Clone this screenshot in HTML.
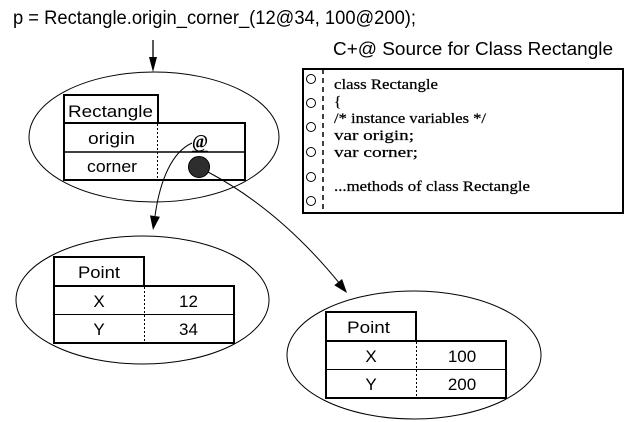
<!DOCTYPE html>
<html>
<head>
<meta charset="utf-8">
<style>
html,body{margin:0;padding:0;background:#fff;}
body{width:641px;height:422px;overflow:hidden;}
svg{display:block;}
.s{font-family:"Liberation Sans",Arial,sans-serif;fill:#000;}
.t{font-family:"Liberation Serif","Times New Roman",serif;fill:#000;stroke:#000;stroke-width:0.25;}
</style>
</head>
<body>
<svg width="641" height="422" viewBox="0 0 641 422" xmlns="http://www.w3.org/2000/svg">
  <rect x="0" y="0" width="641" height="422" fill="#fff"/>

  <!-- main title -->
  <text class="s" x="13" y="24" font-size="19" textLength="403" lengthAdjust="spacingAndGlyphs">p = Rectangle.origin_corner_(12@34, 100@200);</text>

  <!-- top arrow -->
  <line x1="153" y1="40" x2="153" y2="60" stroke="#000" stroke-width="1.3"/>
  <polygon points="153,72 149,57 157,57" fill="#000"/>

  <!-- ellipse 1 -->
  <ellipse cx="154" cy="137" rx="125" ry="65" fill="none" stroke="#000" stroke-width="1"/>

  <!-- Rectangle table -->
  <rect x="64" y="95" width="94" height="28" fill="#fff" stroke="#000" stroke-width="2"/>
  <rect x="64" y="123" width="181" height="57" fill="#fff" stroke="#000" stroke-width="2"/>
  <line x1="64" y1="152" x2="245" y2="152" stroke="#000" stroke-width="1.5"/>
  <line x1="157.5" y1="124" x2="157.5" y2="180" stroke="#000" stroke-width="1" stroke-dasharray="2,2"/>
  <text class="s" x="68" y="117" font-size="17" textLength="85" lengthAdjust="spacingAndGlyphs">Rectangle</text>
  <text class="s" x="88" y="144" font-size="17" textLength="47" lengthAdjust="spacingAndGlyphs">origin</text>
  <text class="s" x="87" y="172" font-size="17" textLength="50" lengthAdjust="spacingAndGlyphs">corner</text>
  <text x="200" y="148" font-size="20" font-weight="bold" text-anchor="middle" font-family="Liberation Serif, serif" fill="#000" textLength="16" lengthAdjust="spacingAndGlyphs">@</text>
  <line x1="192" y1="151.5" x2="208" y2="151.5" stroke="#000" stroke-width="1.5"/>
  <circle cx="199" cy="167" r="10.5" fill="#2e2e2e" stroke="#000" stroke-width="1"/>

  <!-- arrow from origin to Point 12@34 -->
  <path d="M192,143 C172,152 160,180 155,216" fill="none" stroke="#000" stroke-width="1"/>
  <polygon points="153,230 150,215.4 159.9,216.8" fill="#000"/>

  <!-- arrow from corner to Point 100@200 -->
  <path d="M208,172 Q280,210 340,284" fill="none" stroke="#000" stroke-width="1"/>
  <polygon points="347,293 334.3,285.2 342.1,279" fill="#000"/>

  <!-- Source box -->
  <text class="s" x="333" y="55" font-size="18" textLength="280" lengthAdjust="spacingAndGlyphs">C+@ Source for Class Rectangle</text>
  <rect x="303" y="69" width="320" height="144" fill="#fff" stroke="#000" stroke-width="2"/>
  <line x1="323" y1="69" x2="323" y2="213" stroke="#000" stroke-width="1.5" stroke-dasharray="5,4"/>
  <g fill="#fff" stroke="#000" stroke-width="1">
    <circle cx="311" cy="79" r="4.5"/>
    <circle cx="311" cy="103" r="4.5"/>
    <circle cx="311" cy="127" r="4.5"/>
    <circle cx="311" cy="152" r="4.5"/>
    <circle cx="311" cy="177" r="4.5"/>
    <circle cx="311" cy="201" r="4.5"/>
  </g>
  <text class="t" x="334" y="89" font-size="15" textLength="104" lengthAdjust="spacingAndGlyphs">class Rectangle</text>
  <text class="t" x="334" y="106" font-size="15">{</text>
  <text class="t" x="334" y="123" font-size="15" textLength="152" lengthAdjust="spacingAndGlyphs">/* instance variables */</text>
  <text class="t" x="334" y="140" font-size="15" textLength="80" lengthAdjust="spacingAndGlyphs">var origin;</text>
  <text class="t" x="334" y="157" font-size="15" textLength="84" lengthAdjust="spacingAndGlyphs">var corner;</text>
  <text class="t" x="334" y="191" font-size="15" textLength="196" lengthAdjust="spacingAndGlyphs">...methods of class Rectangle</text>

  <!-- ellipse 2 : Point 12@34 -->
  <ellipse cx="142.5" cy="300" rx="126.5" ry="64" fill="none" stroke="#000" stroke-width="1"/>
  <rect x="54" y="257" width="90" height="29" fill="#fff" stroke="#000" stroke-width="2"/>
  <rect x="54" y="286" width="180" height="57" fill="#fff" stroke="#000" stroke-width="2"/>
  <line x1="54" y1="314.5" x2="234" y2="314.5" stroke="#000" stroke-width="1"/>
  <line x1="144.5" y1="287" x2="144.5" y2="343" stroke="#000" stroke-width="1" stroke-dasharray="2,2"/>
  <text class="s" x="99" y="278" font-size="17" text-anchor="middle" textLength="42" lengthAdjust="spacingAndGlyphs">Point</text>
  <text class="s" x="99" y="307" font-size="17" text-anchor="middle">X</text>
  <text class="s" x="188.5" y="307" font-size="17" text-anchor="middle">12</text>
  <text class="s" x="99" y="335" font-size="17" text-anchor="middle">Y</text>
  <text class="s" x="188.5" y="335" font-size="17" text-anchor="middle">34</text>

  <!-- ellipse 3 : Point 100@200 -->
  <ellipse cx="414" cy="355" rx="127" ry="64" fill="none" stroke="#000" stroke-width="1"/>
  <rect x="326" y="312" width="90" height="29" fill="#fff" stroke="#000" stroke-width="2"/>
  <rect x="326" y="341" width="180" height="57" fill="#fff" stroke="#000" stroke-width="2"/>
  <line x1="326" y1="369.5" x2="506" y2="369.5" stroke="#000" stroke-width="1"/>
  <line x1="416.5" y1="342" x2="416.5" y2="398" stroke="#000" stroke-width="1" stroke-dasharray="2,2"/>
  <text class="s" x="368.5" y="333" font-size="17" text-anchor="middle" textLength="43" lengthAdjust="spacingAndGlyphs">Point</text>
  <text class="s" x="371" y="362" font-size="17" text-anchor="middle">X</text>
  <text class="s" x="462" y="362" font-size="17" text-anchor="middle">100</text>
  <text class="s" x="371" y="390" font-size="17" text-anchor="middle">Y</text>
  <text class="s" x="462" y="390" font-size="17" text-anchor="middle">200</text>
</svg>
</body>
</html>
